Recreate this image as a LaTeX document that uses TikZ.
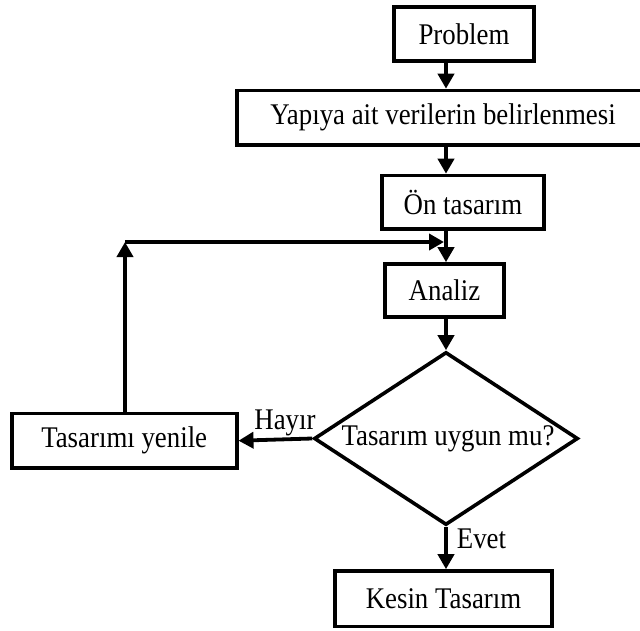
\documentclass[tikz,border=0pt]{standalone}
\usepackage{fontspec}
\setmainfont{Liberation Serif}[FakeStretch=0.895]
\usetikzlibrary{arrows.meta,shapes.geometric}
\begin{document}
\begin{tikzpicture}[x=1pt,y=-1pt,
  txt/.style={font=\fontsize{30}{34}\selectfont},
  box/.style={txt,draw,line width=3.6pt,inner sep=0pt},
  dec/.style={txt,draw,diamond,line width=3.6pt,inner sep=0pt,aspect=1.526},
  arr/.style={line width=3.8pt,-{Triangle[length=15pt,width=16pt]}},
  lbl/.style={txt,inner sep=0pt}]
\useasboundingbox (0,0) rectangle (640,630);
\coordinate (ax) at (446,0);
\node[box,minimum width=140pt,minimum height=54pt] (p) at (464,34) {Problem};
\node[box,minimum width=406pt,minimum height=54.5pt] (y) at (440,117.75) {\hspace*{6pt}Yapıya ait verilerin belirlenmesi};
\node[box,minimum width=162pt,minimum height=53.5pt] (o) at (463,202.25) {Ön tasarım};
\node[box,minimum width=119pt,minimum height=53pt] (a) at (444.5,290.5) {Analiz};
\node[dec,minimum width=264pt,minimum height=173pt] (d) at (446,438.5) {\hspace*{4pt}Tasarım uygun mu?};
\node[box,minimum width=225pt,minimum height=54.7pt] (t) at (124.2,440.7) {Tasarımı yenile};
\node[box,minimum width=217pt,minimum height=55.5pt] (k) at (443.5,598.75) {Kesin Tasarım};
\coordinate (fb) at (125,242);
\draw[arr] (p.south -| ax) -- (y.north -| ax);
\draw[arr] (y.south -| ax) -- (o.north -| ax);
\draw[arr] (o.south -| ax) -- (a.north -| ax);
\draw[arr] (a.south -| ax) -- (d.north);
\draw[arr] (d.south) -- (k.north -| d.south);
\draw[arr] (d.west) -- (t.east);
\draw[arr] (t.north -| fb) -- (fb);
\draw[arr] (fb) -- ([xshift=-2pt]fb -| ax);
\node[lbl,anchor=base] (h) at (285,429) {Hayır};
\node[lbl,anchor=base] (e) at (481.5,548) {Evet};
\end{tikzpicture}
\end{document}
